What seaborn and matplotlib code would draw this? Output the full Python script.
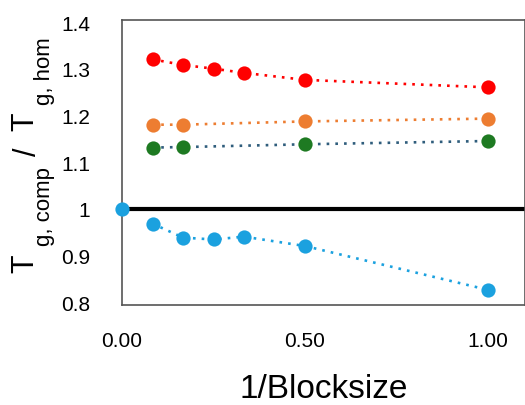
import matplotlib
matplotlib.use("Agg")
import matplotlib.pyplot as plt
import seaborn as sns
import pandas as pd

# ---- data ----
red_x = [1/12, 1/6, 1/4, 1/3, 1/2, 1.0]
red_y = [1.32, 1.308, 1.300, 1.291, 1.276, 1.260]
orange_x = [1/12, 1/6, 1/2, 1.0]
orange_y = [1.180, 1.180, 1.187, 1.193]
green_x = [1/12, 1/6, 1/2, 1.0]
green_y = [1.131, 1.132, 1.138, 1.145]
blue_x = [1/12, 1/6, 1/4, 1/3, 1/2, 1.0]
blue_y = [0.968, 0.938, 0.934, 0.940, 0.920, 0.826]
ref_x = [0.0]
ref_y = [1.0]
xticks = [0.0, 0.5, 1.0]
xtick_labels = ["0.00", "0.50", "1.00"]
yticks = [0.8, 0.9, 1.0, 1.1, 1.2, 1.3, 1.4]
ytick_labels = ["0.8", "0.9", "1", "1.1", "1.2", "1.3", "1.4"]
x_label = "1/Blocksize"
y_label_parts = ["T", "g, comp", "/", "T", "g, hom"]

sns.set_theme(style="white")
plt.rcParams["font.family"] = ["Liberation Sans", "DejaVu Sans"]
plt.rcParams["text.color"] = "black"
plt.rcParams["axes.labelcolor"] = "black"
plt.rcParams["xtick.color"] = "black"
plt.rcParams["ytick.color"] = "black"

W, H = 525, 406
fig = plt.figure(figsize=(W / 100, H / 100), dpi=100)
ax = fig.add_axes([122 / W, 1 - 306 / H, 402.6 / W, 285 / H])

series = [
    (red_x, red_y, "#FF0000", "#FF0000"),
    (orange_x, orange_y, "#ED7D31", "#ED7D31"),
    (green_x, green_y, "#2F5D7C", "#1E7A22"),
    (blue_x, blue_y, "#1BA1DF", "#1BA1DF"),
]

ax.axhline(1.0, color="black", lw=3.0, zorder=2)

for xs, ys, lc, mc in series:
    df = pd.DataFrame({"x": xs, "y": ys})
    sns.lineplot(data=df, x="x", y="y", ax=ax, color=lc, lw=1.9,
                 linestyle=(0, (1, 2.3)), zorder=3)
    sns.scatterplot(data=df, x="x", y="y", ax=ax, color=mc, s=105,
                    edgecolor=mc, linewidth=0, zorder=4)

ref = pd.DataFrame({"x": ref_x, "y": ref_y})
sns.scatterplot(data=ref, x="x", y="y", ax=ax, color="#1BA1DF", s=105,
                linewidth=0, zorder=5, clip_on=False)

ax.set_xlim(0, 1.1)
ax.set_ylim(0.7936, 1.4043)
ax.set_xticks(xticks)
ax.set_xticklabels(xtick_labels, fontsize=15)
ax.set_yticks(yticks)
ax.set_yticklabels(ytick_labels, fontsize=15)
ax.tick_params(axis="both", length=0)
ax.tick_params(axis="y", pad=23)
ax.tick_params(axis="x", pad=19)

for sp in ax.spines.values():
    sp.set_color("#555555")
    sp.set_linewidth(1.2)

ax.set_xlabel(x_label, fontsize=24, labelpad=16)
ax.set_ylabel("")

# y label built from pieces (subscripts nearly full size, as in reference)
def ftxt(px, py, s, size, ha="left"):
    fig.text(px / W, 1 - py / H, s, fontsize=size, rotation=90,
             rotation_mode="anchor", ha=ha, va="baseline", color="black")

ftxt(33, 273, y_label_parts[0], 22)
ftxt(50, 246, y_label_parts[1], 16)
ftxt(36, 152, y_label_parts[2], 22, ha="center")
ftxt(33, 131, y_label_parts[3], 22)
ftxt(50, 105, y_label_parts[4], 16)

fig.savefig("out.png", dpi=100)
